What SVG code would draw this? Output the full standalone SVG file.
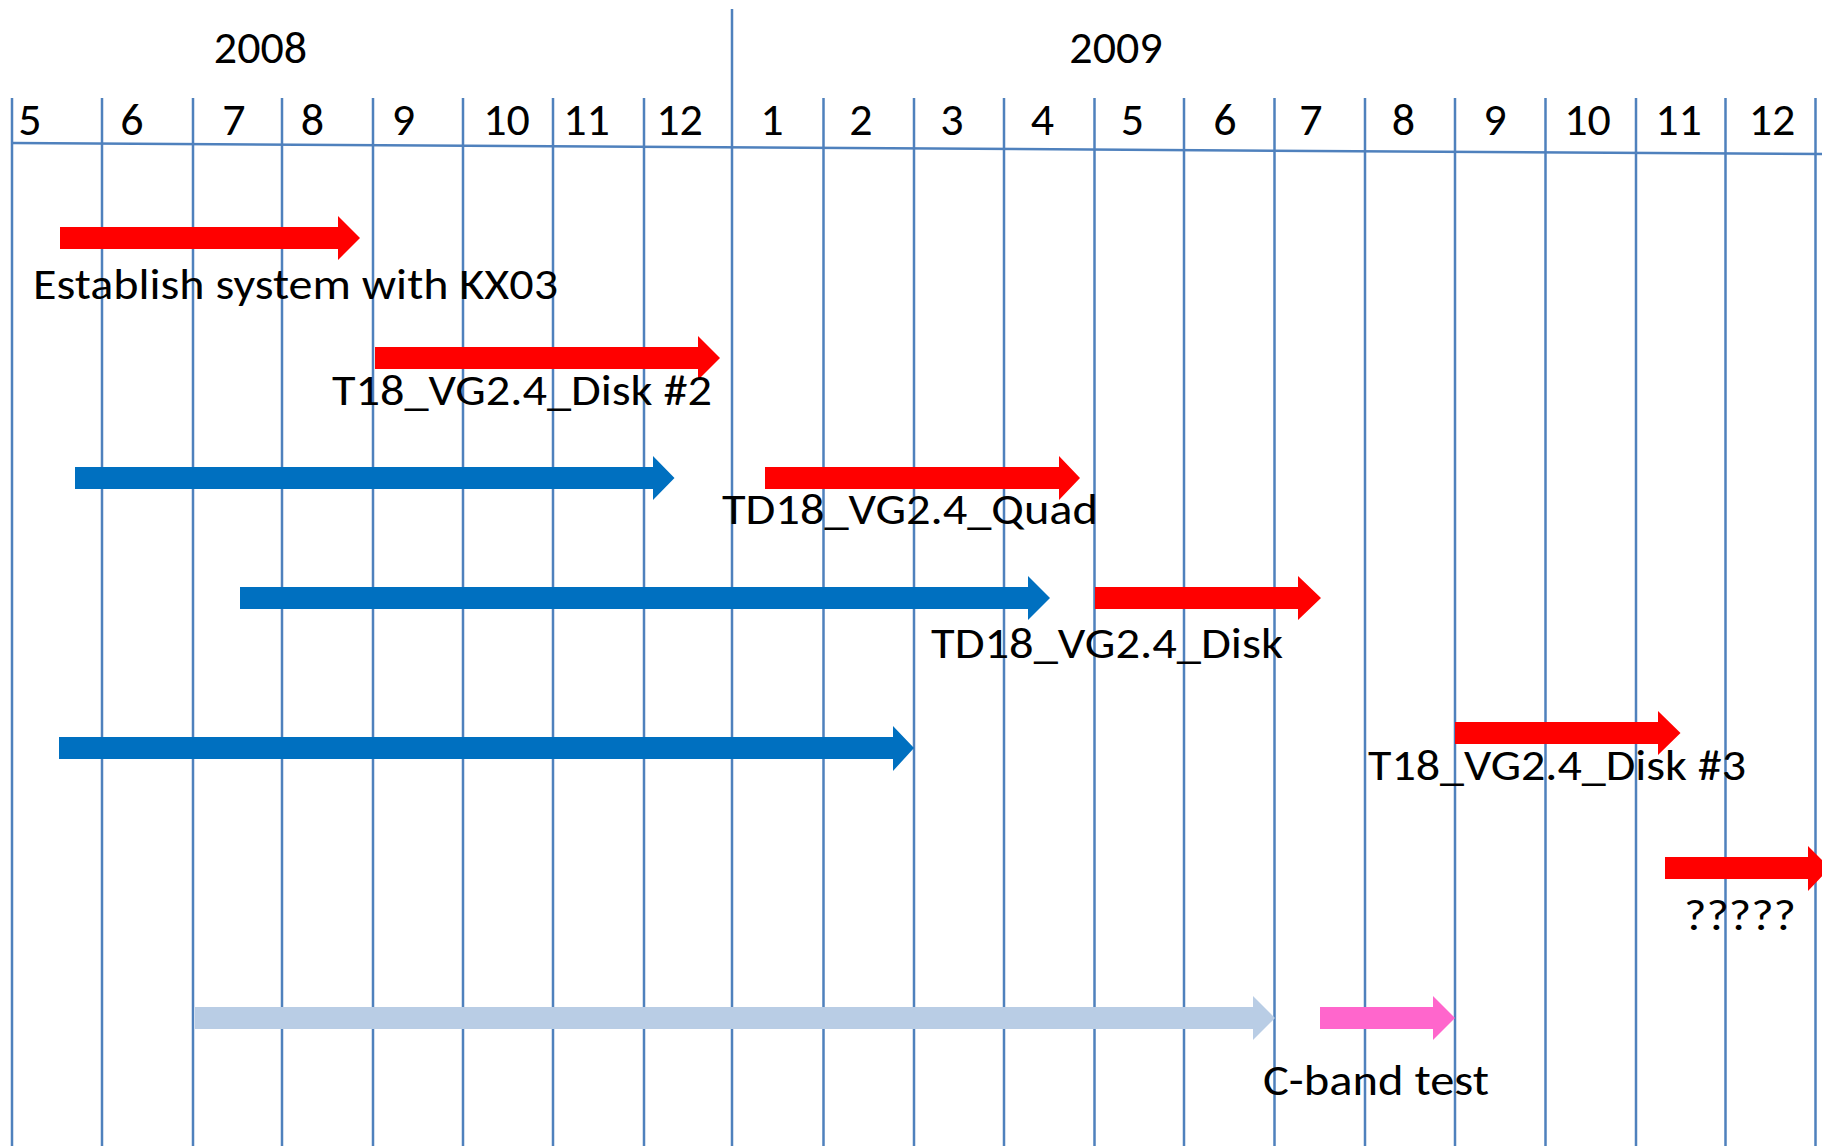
<svg xmlns="http://www.w3.org/2000/svg" width="1822" height="1146" viewBox="0 0 1822 1146">
<style>
.grid{stroke:#4F81BD;stroke-width:2.5;fill:none}
.t{font-family:Carlito,'Open Sans','Noto Sans',sans-serif;font-size:44px;fill:#000}
.m{font-family:Carlito,'Open Sans','Noto Sans',sans-serif;font-size:46px;fill:#000;text-anchor:middle}
.red{fill:#FF0000}
.blue{fill:#0070C0}
.lblue{fill:#B9CDE5}
.pink{fill:#FF66CC}
</style>
<rect width="1822" height="1146" fill="#fff"/>
<g id="grid">
<path class="grid" d="M732 9V1146 M12 98V1146 M102 98V1146 M193 98V1146 M282 98V1146 M373 98V1146 M463 98V1146 M553 98V1146 M644 98V1146 M823.5 98V1146 M914 98V1146 M1004 98V1146 M1094.5 98V1146 M1184 98V1146 M1274.5 98V1146 M1365 98V1146 M1455 98V1146 M1545.5 98V1146 M1636 98V1146 M1725.5 98V1146 M1815.5 98V1146"/>
<path class="grid" d="M12 143L1822 154"/>
</g>
<g id="years">
<text class="m" x="260.5" y="63">2008</text>
<text class="m" x="1116" y="63">2009</text>
</g>
<g id="months">
<text class="m" x="30" y="135">5</text>
<text class="m" x="132" y="135">6</text>
<text class="m" x="234" y="135">7</text>
<text class="m" x="312.5" y="135">8</text>
<text class="m" x="403.5" y="135">9</text>
<text class="m" x="506.5" y="135">10</text>
<text class="m" x="586.5" y="135">11</text>
<text class="m" x="679.5" y="135">12</text>
<text class="m" x="772" y="135">1</text>
<text class="m" x="861" y="135">2</text>
<text class="m" x="952" y="135">3</text>
<text class="m" x="1042.5" y="135">4</text>
<text class="m" x="1132.5" y="135">5</text>
<text class="m" x="1225" y="135">6</text>
<text class="m" x="1311" y="135">7</text>
<text class="m" x="1403.5" y="135">8</text>
<text class="m" x="1495" y="135">9</text>
<text class="m" x="1587.5" y="135">10</text>
<text class="m" x="1678.5" y="135">11</text>
<text class="m" x="1772" y="135">12</text>
</g>
<g id="task-establish">
<polygon class="red" points="60,227 338,227 338,216 360,238 338,260 338,249 60,249"/>
<text class="t" x="33" y="299" textLength="525" lengthAdjust="spacingAndGlyphs">Establish system with KX03</text>
</g>
<g id="task-disk2">
<polygon class="red" points="375,347 698,347 698,336 720,358 698,380 698,369 375,369"/>
<text class="t" x="332" y="405" textLength="380" lengthAdjust="spacingAndGlyphs">T18_VG2.4_Disk #2</text>
</g>
<g id="blue-1">
<polygon class="blue" points="75,467 653,467 653,456 674.5,478 653,500 653,489 75,489"/>
</g>
<g id="task-quad">
<polygon class="red" points="765,467 1059,467 1059,456 1080,478 1059,500 1059,489 765,489"/>
<text class="t" x="722" y="524" textLength="376" lengthAdjust="spacingAndGlyphs">TD18_VG2.4_Quad</text>
</g>
<g id="blue-2">
<polygon class="blue" points="240,587 1028,587 1028,576 1050,598 1028,620 1028,609 240,609"/>
</g>
<g id="task-disk">
<polygon class="red" points="1095,587 1298,587 1298,576 1321,598 1298,620 1298,609 1095,609"/>
<text class="t" x="931" y="658" textLength="352" lengthAdjust="spacingAndGlyphs">TD18_VG2.4_Disk</text>
</g>
<g id="blue-3">
<polygon class="blue" points="59,737 893,737 893,726 914,748 893,771 893,759 59,759"/>
</g>
<g id="task-disk3">
<polygon class="red" points="1455,722 1658,722 1658,711 1680.5,733 1658,755 1658,744 1455,744"/>
<text class="t" x="1368" y="780" textLength="378" lengthAdjust="spacingAndGlyphs">T18_VG2.4_Disk #3</text>
</g>
<g id="task-unknown">
<polygon class="red" points="1665,857 1808,857 1808,846 1830,868 1808,891 1808,879 1665,879"/>
<text class="t" x="1684" y="930" textLength="112" lengthAdjust="spacingAndGlyphs">?????</text>
</g>
<g id="lightblue">
<polygon class="lblue" points="195,1007 1253,1007 1253,996 1275,1018 1253,1040 1253,1029 195,1029"/>
</g>
<g id="task-cband">
<polygon class="pink" points="1320,1007 1433,1007 1433,996 1455,1018 1433,1040 1433,1029 1320,1029"/>
<text class="t" x="1263" y="1095" textLength="226" lengthAdjust="spacingAndGlyphs">C-band test</text>
</g>
</svg>
